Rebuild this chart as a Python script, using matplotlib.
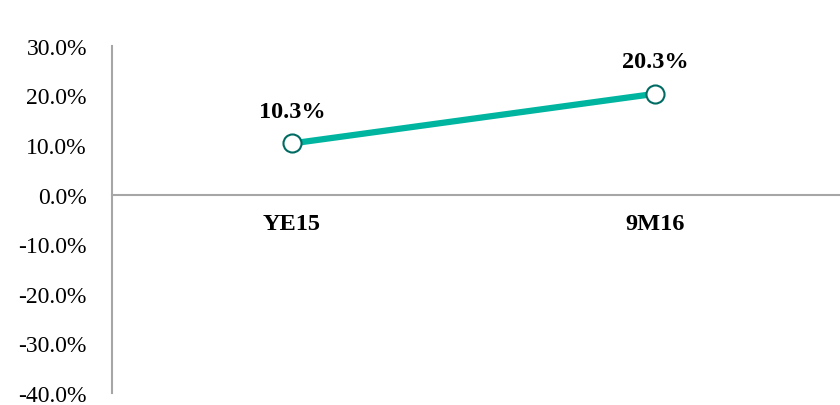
import matplotlib.pyplot as plt
from matplotlib.ticker import FuncFormatter

plt.rcParams['font.family'] = ['Liberation Serif', 'DejaVu Serif']

periods = ["YE15", "9M16"]
ratio = [10.3, 20.3]
yticks = [30, 20, 10, 0, -10, -20, -30, -40]

fig = plt.figure(figsize=(8.4, 4.06), dpi=100)
ax = fig.add_axes([0.1333, 0.0296, 0.8667, 0.8554])

x = [0.5, 1.5]
ax.plot(x, ratio, color="#00B5A0", lw=4.5, zorder=2)
ax.plot(x, ratio, "o", ms=13, mfc="white", mec="#006B63", mew=1.5, zorder=3)

# value labels above the markers
for xi, v in zip(x, ratio):
    ax.annotate(f"{v:.1f}%", (xi, v), xytext=(0, 19), textcoords="offset points",
                ha="center", va="baseline", fontsize=17.5, fontweight="bold")

# category names just under the zero line
for xi, lab in zip(x, periods):
    ax.annotate(lab, (xi, 0), xytext=(0, -25), textcoords="offset points",
                ha="center", va="baseline", fontsize=17.5, fontweight="bold")

ax.set_xlim(0.004, 2.01)
ax.set_ylim(-40, 30)
ax.set_yticks(yticks)
ax.yaxis.set_major_formatter(FuncFormatter(lambda v, p: f"{v:.1f}%"))
ax.tick_params(axis="y", length=0, pad=18, labelsize=17)
ax.set_xticks([])

for s in ["top", "right"]:
    ax.spines[s].set_visible(False)
ax.spines["bottom"].set_position(("data", 0))
for s in ["bottom", "left"]:
    ax.spines[s].set_color("#A6A6A6")
    ax.spines[s].set_linewidth(1.5)

fig.savefig("out.png", dpi=100)
